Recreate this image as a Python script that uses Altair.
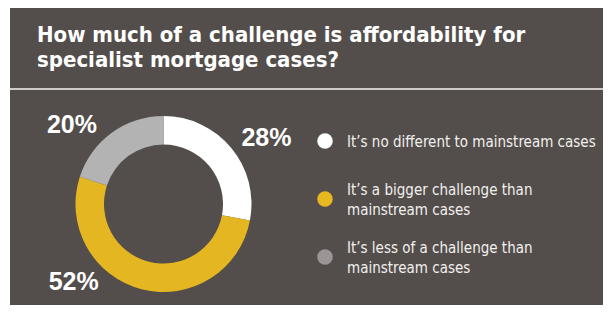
import altair as alt
import pandas as pd

# ---- data ----
categories = [
    "It’s no different to mainstream cases",
    "It’s a bigger challenge than mainstream cases",
    "It’s less of a challenge than mainstream cases",
]
values = [28, 52, 20]
legend_lines = [
    ["It’s no different to mainstream cases"],
    ["It’s a bigger challenge than", "mainstream cases"],
    ["It’s less of a challenge than", "mainstream cases"],
]
title_lines = [
    "How much of a challenge is affordability for",
    "specialist mortgage cases?",
]

# ---- styles ----
W, H = 595, 297
BG = "#534e4b"
ring_colors = ["#ffffff", "#e4b722", "#b3b3b3"]
dot_colors = ["#ffffff", "#e8b820", "#9b9695"]
CX, CY = 155.5, 196
R_OUT, R_IN = 88, 59.5
COND = "DejaVu Sans Condensed"
LH = 19.5

df = pd.DataFrame({
    "cat": categories,
    "value": values,
    "idx": list(range(len(categories))),
    "legend": ["\n".join(l) for l in legend_lines],
    "nlines": [len(l) for l in legend_lines],
})

blank = alt.Data(values=[{}])

bg = alt.Chart(blank).mark_rect(color=BG).encode(
    x=alt.value(2), x2=alt.value(W), y=alt.value(0), y2=alt.value(H)
)
sep = alt.Chart(blank).mark_rect(color="#cfcbc8").encode(
    x=alt.value(2), x2=alt.value(W), y=alt.value(80), y2=alt.value(82)
)

tdf = pd.DataFrame({"line": title_lines, "i": [0, 1]})
title = alt.Chart(tdf).mark_text(
    font=COND, fontWeight="bold", fontSize=22,
    color="white", align="left", baseline="alphabetic"
).encode(
    x=alt.value(29),
    y=alt.Y("i:Q", scale=alt.Scale(domain=[0, 1], range=[34, 59]), axis=None),
    text="line:N",
)

theta_scale = alt.Scale(domain=[0, 100])
color_scale = alt.Scale(domain=categories, range=ring_colors)

base = alt.Chart(df)

arc = base.mark_arc(radius=R_OUT, radius2=R_IN).encode(
    theta=alt.Theta("value:Q", stack=True, scale=theta_scale),
    order=alt.Order("idx:Q"),
    color=alt.Color("cat:N", scale=color_scale, legend=None),
    x=alt.value(CX), y=alt.value(CY),
)

lab_base = base.transform_window(
    cum="sum(value)", sort=[alt.SortField("idx")]
).transform_calculate(
    mid="datum.cum - datum.value/2",
    label="datum.value + '%'",
)

offsets = [(10.5, 10.5), (-60, -38), (-21, 18)]
labels = []
for i, (dx, dy) in enumerate(offsets):
    labels.append(
        lab_base.transform_filter(alt.datum.idx == i).mark_text(
            radius=120, dx=dx, dy=dy, font="Liberation Sans", fontWeight="bold",
            fontSize=25, color="white", align="center", baseline="middle"
        ).encode(
            theta=alt.Theta("mid:Q", scale=theta_scale, stack=None),
            x=alt.value(CX), y=alt.value(CY),
            text="label:N",
        )
    )

leg_y = alt.Scale(domain=[0, 2], range=[133, 249])
dots = base.mark_circle(size=240, opacity=1).encode(
    x=alt.value(317),
    y=alt.Y("idx:Q", scale=leg_y, axis=None),
    color=alt.Color("cat:N", scale=alt.Scale(domain=categories, range=dot_colors), legend=None),
)

leg_texts = []
for n in (1, 2):
    leg_texts.append(
        base.transform_filter(alt.datum.nlines == n).mark_text(
            font=COND, fontSize=15, color="#f2f0ee",
            align="left", baseline="middle", lineBreak="\n", lineHeight=LH,
            dy=1 - (n - 1) * LH / 2,
        ).encode(
            x=alt.value(339),
            y=alt.Y("idx:Q", scale=leg_y, axis=None),
            text="legend:N",
        )
    )

chart = alt.layer(bg, sep, title, arc, *labels, dots, *leg_texts).resolve_scale(
    color="independent", y="independent"
).properties(
    width=W, height=H, padding=0, background="white"
).configure_view(stroke=None)

chart.save("out.html", embed_options={"renderer": "svg", "actions": False})
